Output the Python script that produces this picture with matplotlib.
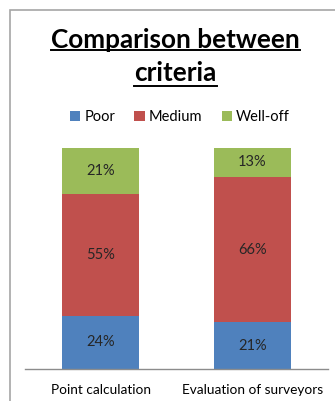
import matplotlib
matplotlib.use("Agg")
import matplotlib.pyplot as plt
from matplotlib.patches import Rectangle
from matplotlib.lines import Line2D

categories = ["Point calculation", "Evaluation of surveyors"]
series_names = ["Poor", "Medium", "Well-off"]
poor = [24, 21]
medium = [55, 66]
well_off = [21, 13]
colors = ["#4F81BD", "#C0504D", "#9BBB59"]

W, H = 335, 401
fig = plt.figure(figsize=(W / 100, H / 100), dpi=100)
fig.patch.set_facecolor("white")

# outer frame
fig.add_artist(Rectangle((10 / W, -0.05), 1.2, (H - 10) / H + 0.05, transform=fig.transFigure,
                         fill=False, edgecolor="#a6a6a6", linewidth=1.2))

ax = fig.add_axes([25 / W, (H - 368.7) / H, 303 / W, (368.7 - 148) / H])
x = list(range(len(categories)))
bottom = [0, 0]
for name, vals, c in zip(series_names, [poor, medium, well_off], colors):
    fr = [v / 100 for v in vals]
    ax.bar(x, fr, width=0.51, bottom=bottom, color=c, label=name, zorder=2)
    for xi, b, f, v in zip(x, bottom, fr, vals):
        ax.text(xi, b + f / 2, f"{v}%", ha="center", va="center", fontsize=10.5,
                family="Lato", color="#262626")
    bottom = [b + f for b, f in zip(bottom, fr)]

ax.set_xlim(-0.5, 1.5)
ax.set_ylim(0, 1)
for s in ["top", "right", "left"]:
    ax.spines[s].set_visible(False)
ax.spines["bottom"].set_color("#8c8c8c")
ax.spines["bottom"].set_linewidth(1.0)
ax.set_yticks([])
ax.set_xticks(x)
ax.set_xticklabels(categories, family="Lato", fontsize=9.8, color="#000000")
ax.tick_params(axis="x", length=0, pad=11)
ax.set_facecolor("none")

# title
t1 = fig.text(175.5 / W, 1 - 40 / H, "Comparison between", ha="center", va="center",
              fontsize=18.8, fontweight="bold", family="Lato")
t2 = fig.text(175.5 / W, 1 - 73 / H, "criteria", ha="center", va="center",
              fontsize=18.8, fontweight="bold", family="Lato")
fig.canvas.draw()
r = fig.canvas.get_renderer()
for t, yy in ((t1, 49.5), (t2, 86)):
    bb = t.get_window_extent(r)
    y = H - yy
    fig.add_artist(Line2D([bb.x0 / W, bb.x1 / W], [y / H, y / H], transform=fig.transFigure,
                          color="black", linewidth=1.4))

leg = fig.legend(loc="center", bbox_to_anchor=(180 / W, 1 - 117 / H), ncol=3, frameon=False,
                 prop={"family": "Lato", "size": 10.5}, handlelength=0.7, handleheight=0.7,
                 handletextpad=0.3, columnspacing=1.3)

fig.savefig("out.png", dpi=100)
